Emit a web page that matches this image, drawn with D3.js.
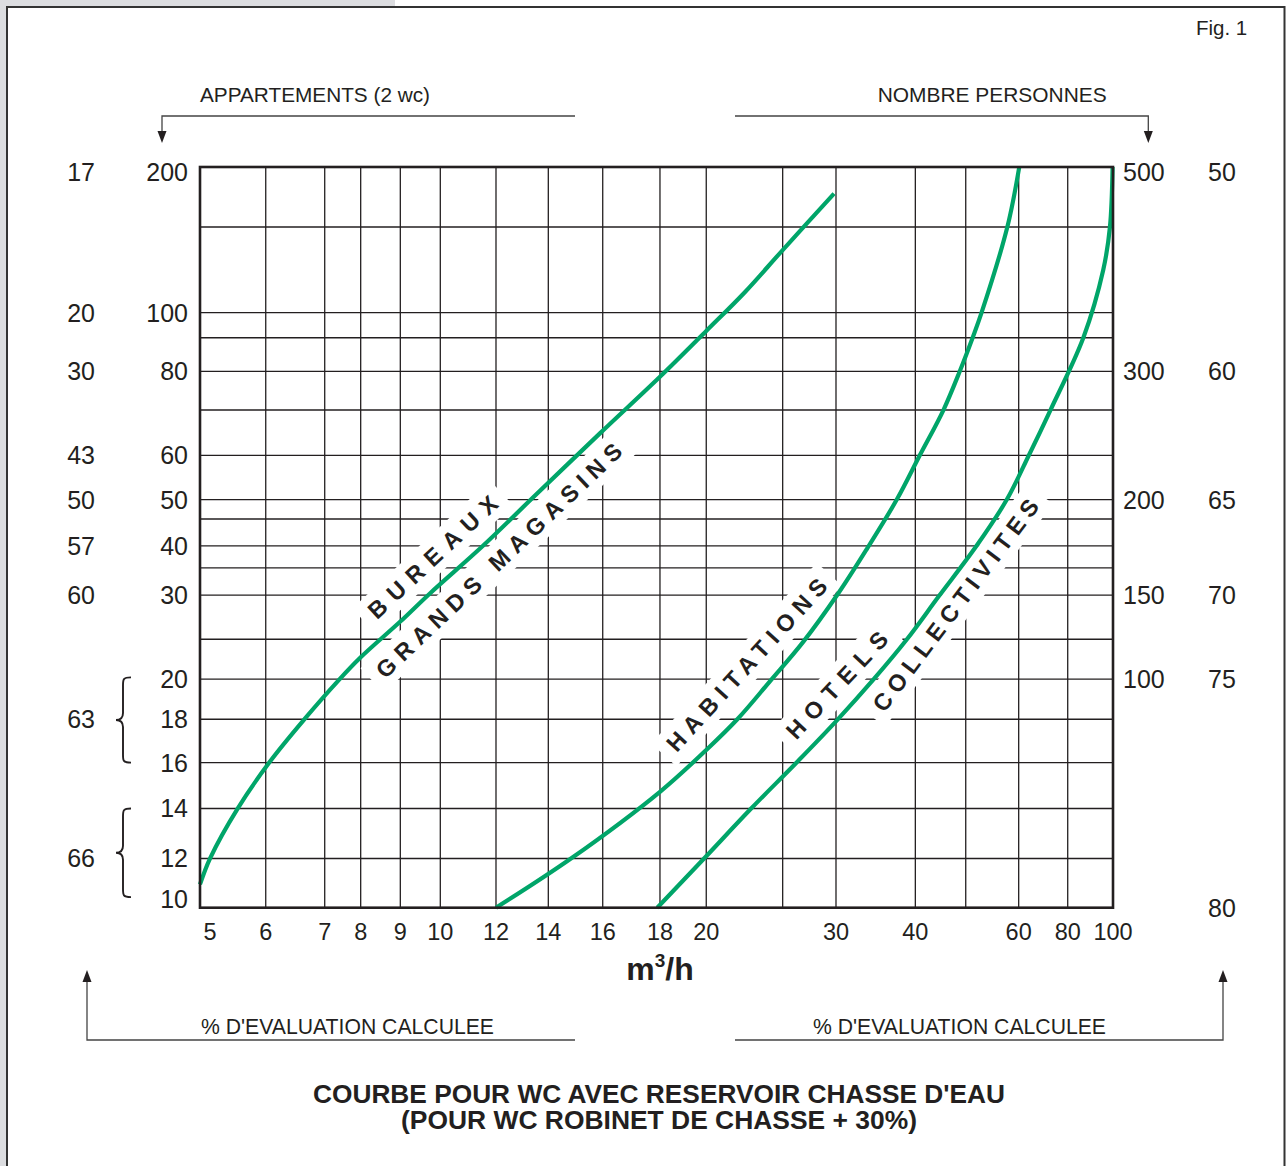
<!DOCTYPE html>
<html><head><meta charset="utf-8">
<script src="https://cdn.jsdelivr.net/npm/d3@7"></script>
<style>
html,body{margin:0;padding:0;background:#fff;}
svg{display:block;font-family:"Liberation Sans",Arial,Helvetica,sans-serif;}
</style></head><body>
<svg id="chart" width="1286" height="1166"></svg>
<script>
// ---------- data ----------
const xTickValues = [5,6,7,8,9,10,12,14,16,18,20,30,40,60,80,100];
const xGridValues = [6,7,8,9,10,12,14,16,18,20,25,30,40,50,60,80];
// printed (non-uniform) grid calibration of the original chart
const xCalibValues = [5,6,7,8,9,10,12,14,16,18,20,25,30,40,50,60,80,100];
const xCalibFrac = [0,0.0720,0.1366,0.1760,0.2194,0.2632,0.3242,0.3815,0.4411,0.5038,0.5545,0.6382,0.6966,0.7835,0.8387,0.8967,0.9504,1];
const yCalibValues = [10,12,14,16,18,20,25,30,35,40,45,50,60,70,80,90,100,150,200];
const yCalibFrac = [0,0.0664,0.1339,0.1958,0.2544,0.3085,0.3624,0.4219,0.4589,0.4886,0.5248,0.5510,0.6108,0.6719,0.7242,0.7695,0.8033,0.9190,1];
const yGridValues = [12,14,16,18,20,25,30,35,40,45,50,60,70,80,90,100,150];
const appartTicks = [10,12,14,16,18,20,30,40,50,60,80,100,200];
const pctLeftLabels = ["17","20","30","43","50","57","60","63","66"];
const pctLeftAt = [200,100,80,60,50,40,30,18,12];
const personnesLabels = ["500","300","200","150","100"];
const personnesAt = [200,80,50,30,20];
const pctRightLabels = ["50","60","65","70","75","80"];
const pctRightAt = [200,80,50,30,20,10];
const braces = [[20.2,16],[14,10.4]];

const bureaux = [[5,10.9],[5.14,12],[5.55,14],[6.07,16.06],[6.65,18.04],[7.35,19.9],[8,22.6],[9,26.9],[9.73,30.3],[11.5,40],[13.3,50],[15.9,64.7],[18,78.5],[20,92.6],[22.4,110.3],[25,134.5],[29.8,176]];
const habitations = [[12,10],[14.8,12],[18,14.7],[20,16.56],[21.9,18],[24.1,19.9],[26.8,24.6],[30.2,30.2],[33.6,39.4],[37.4,50],[40.8,60],[45.3,70],[48.7,80],[51.2,90],[52.8,100],[57.7,150],[60.2,200]];
const hotels = [[17.9,10],[19.9,12],[22.8,14],[26.2,16],[30,17.9],[34.4,20],[38.8,25],[44.3,29.8],[51.9,40],[57.6,50],[63.7,60],[72.3,70],[86.4,90],[95.3,122.4],[98.5,150],[99.8,200]];
const curveLabelTexts = ["BUREAUX","GRANDS MAGASINS","HABITATIONS","HOTELS","COLLECTIVITES"];
const curveLabelX = [9.8,12.1,22.5,30.1,47.8];
const curveLabelY = [37.4,36.6,21.7,19.7,28.8];

// ---------- layout ----------
const ML = 200, MT = 167, W = 913, H = 740.7;
const ink = "#231f20", green = "#00a569";
const labelAngles = [-43,-43.5,-47.5,-47,-53];
const labelLens = [168,329,225,137,259];

const svg = d3.select("#chart");
svg.append("rect").attr("width",1286).attr("height",1166).attr("fill","#fff");
svg.append("rect").attr("x",0).attr("y",0).attr("width",395).attr("height",7).attr("fill","#dcdde0");
svg.append("rect").attr("x",0).attr("y",0).attr("width",6).attr("height",1166).attr("fill","#dcdde0");
svg.append("path").attr("d","M7,1166V7H1284.5V1166").attr("fill","none").attr("stroke","#333").attr("stroke-width",2);

const x = d3.scaleLog().domain(xCalibValues).range(xCalibFrac.map(f => f*W));
const y = d3.scaleLog().domain(yCalibValues).range(yCalibFrac.map(f => H*(1-f)));

const g = svg.append("g").attr("transform",`translate(${ML},${MT})`);

// grid
g.selectAll(".vg").data(xGridValues).join("line")
  .attr("x1",d=>x(d)).attr("x2",d=>x(d)).attr("y1",0).attr("y2",H)
  .attr("stroke",ink).attr("stroke-width",1.3);
g.selectAll(".hg").data(yGridValues).join("line")
  .attr("y1",d=>y(d)).attr("y2",d=>y(d)).attr("x1",0).attr("x2",W)
  .attr("stroke",ink).attr("stroke-width",1.3);

// label backgrounds
const lblFs = 23.5;
const lab = curveLabelTexts.map((t,i)=>({t, cx:x(curveLabelX[i]), cy:y(curveLabelY[i]), a:labelAngles[i], len:labelLens[i]}));
g.selectAll(".lbg").data(lab).join("rect")
  .attr("transform",d=>`translate(${d.cx},${d.cy}) rotate(${d.a})`)
  .attr("x",d=>-d.len/2-10).attr("y",-17).attr("width",d=>d.len+20).attr("height",34)
  .attr("fill","#fff");

// curves
const line = d3.line().x(d=>x(d[0])).y(d=>y(d[1])).curve(d3.curveCatmullRom.alpha(0.5));
[bureaux,habitations,hotels].forEach(s=>{
  g.append("path").datum(s).attr("d",line).attr("fill","none")
   .attr("stroke",green).attr("stroke-width",4.2);
});

// border
g.append("rect").attr("x",0).attr("y",0).attr("width",W).attr("height",H)
  .attr("fill","none").attr("stroke",ink).attr("stroke-width",2.6);

// curve label text
g.selectAll(".lt").data(lab).join("text")
  .attr("transform",d=>`translate(${d.cx},${d.cy}) rotate(${d.a})`)
  .attr("text-anchor","middle").attr("y",lblFs*0.358)
  .attr("font-size",lblFs).attr("font-weight","bold").attr("fill",ink)
  .attr("textLength",d=>d.len).attr("lengthAdjust","spacing")
  .text(d=>d.t);

// ---------- tick labels ----------
const tfs = 25, xfs = 23.5;
const nudge = v => v===200 ? 5 : 0;
g.selectAll(".xl").data(xTickValues).join("text")
  .attr("x",(d,i)=>x(d)+(i===0?10:0)).attr("y",H+32.5)
  .attr("text-anchor","middle").attr("font-size",xfs).attr("fill",ink).text(d=>d);
g.selectAll(".yl").data(appartTicks).join("text")
  .attr("x",-12).attr("y",d=>y(d)+nudge(d)+(d===10?-9:0)+tfs*0.358)
  .attr("text-anchor","end").attr("font-size",tfs).attr("fill",ink).text(d=>d);
g.selectAll(".pl").data(pctLeftLabels).join("text")
  .attr("x",-105).attr("y",(d,i)=>y(pctLeftAt[i])+nudge(pctLeftAt[i])+tfs*0.358)
  .attr("text-anchor","end").attr("font-size",tfs).attr("fill",ink).text(d=>d);
g.selectAll(".np").data(personnesLabels).join("text")
  .attr("x",W+10).attr("y",(d,i)=>y(personnesAt[i])+nudge(personnesAt[i])+tfs*0.358)
  .attr("font-size",tfs).attr("fill",ink).text(d=>d);
g.selectAll(".pr").data(pctRightLabels).join("text")
  .attr("x",W+95).attr("y",(d,i)=>y(pctRightAt[i])+nudge(pctRightAt[i])+tfs*0.358)
  .attr("font-size",tfs).attr("fill",ink).text(d=>d);

// braces
braces.forEach(b=>{
  const t = y(b[0]), bt = y(b[1]), m = (t+bt)/2;
  const xr = -69, xb = -77, xt = -84;
  const p = `M${xr},${t} C${xb},${t} ${xb},${t+2} ${xb},${t+8} L${xb},${m-7} C${xb},${m-2} ${xb-2},${m} ${xt},${m} C${xb-2},${m} ${xb},${m+2} ${xb},${m+7} L${xb},${bt-8} C${xb},${bt-2} ${xb},${bt} ${xr},${bt}`;
  g.append("path").attr("d",p).attr("fill","none").attr("stroke",ink).attr("stroke-width",1.9);
});

// ---------- annotations ----------
const stroke = "#444";
function arrowHead(ax, ay, dir){ // dir 1 = down, -1 = up
  svg.append("path").attr("d",`M${ax},${ay} L${ax-4.5},${ay-12*dir} L${ax+4.5},${ay-12*dir} Z`).attr("fill",ink);
}
svg.append("path").attr("d","M575,116H162V133").attr("fill","none").attr("stroke",stroke).attr("stroke-width",1.3);
arrowHead(162,143,1);
svg.append("path").attr("d","M735,116H1148.3V133").attr("fill","none").attr("stroke",stroke).attr("stroke-width",1.3);
arrowHead(1148.3,143,1);
svg.append("path").attr("d","M575,1040H87V980").attr("fill","none").attr("stroke",stroke).attr("stroke-width",1.3);
arrowHead(87,970,-1);
svg.append("path").attr("d","M735,1040H1223V980").attr("fill","none").attr("stroke",stroke).attr("stroke-width",1.3);
arrowHead(1223,970,-1);

function txt(s, tx, ty, opts={}){
  const t = svg.append("text").attr("x",tx).attr("y",ty).attr("fill",ink)
    .attr("font-size",opts.fs||21).attr("text-anchor",opts.anchor||"start");
  if(opts.bold) t.attr("font-weight","bold");
  if(opts.len) t.attr("textLength",opts.len).attr("lengthAdjust","spacingAndGlyphs");
  t.text(s);
  return t;
}
txt("Fig. 1",1196,35,{fs:20.5});
txt("APPARTEMENTS (2 wc)",200,102,{fs:20.6,len:230});
txt("NOMBRE PERSONNES",877.7,102,{fs:20.8,len:229});
txt("% D'EVALUATION CALCULEE",201,1034,{fs:22,len:293});
txt("% D'EVALUATION CALCULEE",813,1034,{fs:22,len:293});
txt("COURBE POUR WC AVEC RESERVOIR CHASSE D'EAU",659,1103,{fs:25,bold:true,anchor:"middle",len:692});
txt("(POUR WC ROBINET DE CHASSE + 30%)",659,1129,{fs:25,bold:true,anchor:"middle",len:516});

const mt = svg.append("text").attr("x",660).attr("y",980).attr("text-anchor","middle")
  .attr("font-size",32).attr("font-weight","bold").attr("fill",ink);
mt.append("tspan").text("m");
mt.append("tspan").attr("font-size",19).attr("dy",-13).text("3");
mt.append("tspan").attr("dy",13).text("/h");
</script>
</body></html>
